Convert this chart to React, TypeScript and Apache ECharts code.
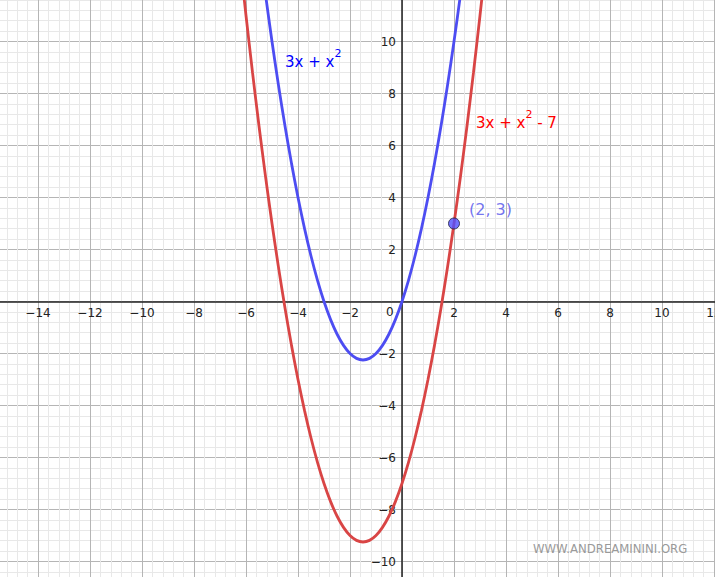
import React, { useEffect, useRef } from "react";
import * as echarts from "echarts";

// Sample points (x, y) for each curve
const blueX = [-5.5, -5.25, -5, -4.75, -4.5, -4.25, -4, -3.75, -3.5, -3.25, -3, -2.75, -2.5, -2.25, -2, -1.75, -1.5, -1.25, -1, -0.75, -0.5, -0.25, 0, 0.25, 0.5, 0.75, 1, 1.25, 1.5, 1.75, 2, 2.25, 2.5];
const blueY = [13.75, 11.8125, 10, 8.3125, 6.75, 5.3125, 4, 2.8125, 1.75, 0.8125, 0, -0.6875, -1.25, -1.6875, -2, -2.1875, -2.25, -2.1875, -2, -1.6875, -1.25, -0.6875, 0, 0.8125, 1.75, 2.8125, 4, 5.3125, 6.75, 8.3125, 10, 11.8125, 13.75];
const redX = [-6.5, -6.25, -6, -5.75, -5.5, -5.25, -5, -4.75, -4.5, -4.25, -4, -3.75, -3.5, -3.25, -3, -2.75, -2.5, -2.25, -2, -1.75, -1.5, -1.25, -1, -0.75, -0.5, -0.25, 0, 0.25, 0.5, 0.75, 1, 1.25, 1.5, 1.75, 2, 2.25, 2.5, 2.75, 3, 3.25, 3.5];
const redY = [15.75, 13.3125, 11, 8.8125, 6.75, 4.8125, 3, 1.3125, -0.25, -1.6875, -3, -4.1875, -5.25, -6.1875, -7, -7.6875, -8.25, -8.6875, -9, -9.1875, -9.25, -9.1875, -9, -8.6875, -8.25, -7.6875, -7, -6.1875, -5.25, -4.1875, -3, -1.6875, -0.25, 1.3125, 3, 4.8125, 6.75, 8.8125, 11, 13.3125, 15.75];
const pointXY = [2, 3];
const pointLabel = "(2, 3)";
const blueName = "3x + x";
const redName = "3x + x";
const redTail = " - 7";
const watermark = "WWW.ANDREAMININI.ORG";
const xLabelRange = [-14, 12];
const yLabelRange = [-10, 10];

const FONT = "DejaVu Sans";

// pixel geometry of the frame
const X0 = 402; // pixel of x = 0
const Y0 = 301.5; // pixel of y = 0
const U = 26; // pixels per unit
const XMIN = -16, XMAX = 14, YMIN = -12, YMAX = 12;
const W = 715, H = 577;

const makeFmt = (range: number[]) => (v: number) => {
  if (Math.abs(v) < 1e-9) return "";
  if (Math.abs(v % 2) > 1e-9) return "";
  if (v < range[0] - 1e-9 || v > range[1] + 1e-9) return "";
  return v < 0 ? "\u2212" + Math.abs(v) : String(v);
};

export default function App() {
  const ref = useRef<HTMLDivElement>(null);
  useEffect(() => {
    if (!ref.current) return;
    const chart = echarts.init(ref.current, undefined, { renderer: "svg" });
    const gLeft = X0 + XMIN * U;
    const gRight = W - (X0 + XMAX * U);
    const gTop = Y0 - YMAX * U;
    const gBottom = H - (Y0 - YMIN * U);
    const axisCommon = {
      type: "value" as const,
      interval: 2,
      axisTick: { show: false },
      minorTick: { show: false, splitNumber: 5 },
      splitLine: { show: true, lineStyle: { color: "#b5b5b5", width: 1 } },
      minorSplitLine: { show: true, lineStyle: { color: "#e8e8e8", width: 1 } },
    };
    chart.setOption({
      animation: false,
      backgroundColor: "#fff",
      grid: {
        left: gLeft,
        right: gRight,
        top: gTop,
        bottom: gBottom,
        containLabel: false,
        outerBoundsMode: "none",
      },
      xAxis: {
        ...axisCommon,
        min: XMIN,
        max: XMAX,
        position: "bottom",
        offset: -(-YMIN * U),
        axisLine: { onZero: false, lineStyle: { color: "#222", width: 1.5 } },
        axisLabel: { formatter: makeFmt(xLabelRange), color: "#222", fontFamily: FONT, fontSize: 12, margin: 5 },
      },
      yAxis: {
        ...axisCommon,
        min: YMIN,
        max: YMAX,
        position: "left",
        offset: -(-XMIN * U),
        axisLine: { onZero: false, lineStyle: { color: "#222", width: 1.5 } },
        axisLabel: { formatter: makeFmt(yLabelRange), color: "#222", fontFamily: FONT, fontSize: 12, margin: 6 },
      },
      series: [
        {
          type: "line",
          data: redX.map((x, i) => [x, redY[i]]),
          smooth: 0.25,
          showSymbol: false,
          lineStyle: { color: "#d94545", width: 2.8 },
          z: 3,
        },
        {
          type: "line",
          data: blueX.map((x, i) => [x, blueY[i]]),
          smooth: 0.25,
          showSymbol: false,
          lineStyle: { color: "#4d4df2", width: 2.8 },
          z: 4,
        },
        {
          type: "scatter",
          data: [pointXY],
          symbolSize: 11,
          itemStyle: { color: "#4d4dff", borderColor: "#1e1e3c", borderWidth: 1 },
          label: {
            show: true,
            formatter: pointLabel,
            position: "right",
            distance: 9,
            offset: [0, -14],
            color: "#4f4fea",
            fontFamily: FONT,
            fontSize: 16,
          },
          z: 5,
        },
      ],
      graphic: [
        {
          type: "text",
          left: 386,
          top: 306,
          z: 100,
          style: { text: "0", fill: "#222", font: `12px "${FONT}"` },
        },
        {
          type: "text",
          x: 285,
          y: 48,
          z: 100,
          style: {
            text: `{a|${blueName}}{s|2}`,
            rich: {
              a: { fill: "#0000ff", fontSize: 15, fontFamily: FONT, padding: [6, 0, 0, 0] },
              s: { fill: "#0000ff", fontSize: 11, fontFamily: FONT, verticalAlign: "top" },
            },
          },
        },
        {
          type: "text",
          x: 476,
          y: 109,
          z: 100,
          style: {
            text: `{a|${redName}}{s|2}{a|${redTail}}`,
            rich: {
              a: { fill: "#ff0000", fontSize: 15, fontFamily: FONT, padding: [6, 0, 0, 0] },
              s: { fill: "#ff0000", fontSize: 11, fontFamily: FONT, verticalAlign: "top" },
            },
          },
        },
        {
          type: "text",
          x: 533,
          y: 543,
          z: 100,
          style: { text: watermark, fill: "#9a9a9a", font: `11.7px "${FONT}"` },
        },
      ],
    });
    return () => chart.dispose();
  }, []);
  return (
    <div
      ref={ref}
      style={{ position: "fixed", left: 0, top: 0, width: W, height: H }}
    />
  );
}
